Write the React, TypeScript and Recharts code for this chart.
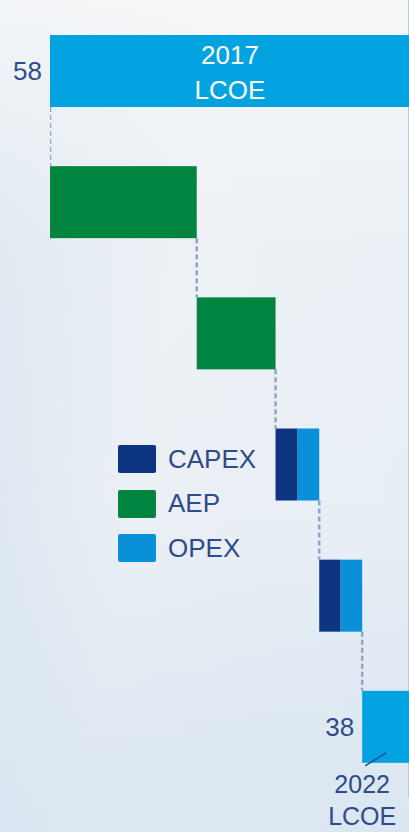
import { BarChart, Bar, XAxis, YAxis, Legend, LabelList } from "recharts";

// rows top to bottom, value axis runs right-to-left
const rowNames = ["2017 LCOE", "AEP 1", "AEP 2", "Step 3", "Step 4", "2022 LCOE"];
const totalValues = [58, 0, 0, 0, 0, 38];
const aepValues = [0, 9.4, 5.05, 0, 0, 0];
const capexValues = [0, 0, 0, 1.4, 1.35, 0];
const opexValues = [0, 0, 0, 1.4, 1.4, 0];
const totalLabels = ["2017", "2022"];

const legendOrder = ["capex", "aep", "opex"];

const COLORS = {
  total: "#00a3e0",
  aep: "#00843f",
  capex: "#0c3480",
  opex: "#0a90d8",
  text: "#2f4b8a",
  dash: "#95a2cb",
};

const CHART_H = 832;
const MARGIN = { top: 5, right: 0, bottom: 40, left: 50 };
const BAR_SIZE = 72;
const GAP = (CHART_H - MARGIN.top - MARGIN.bottom) / rowNames.length - BAR_SIZE;

// build waterfall table: invisible base + visible segments
let level = 0;
const data = rowNames.map((name, i) => {
  const step = aepValues[i] + capexValues[i] + opexValues[i];
  let base = 0;
  if (totalValues[i] > 0) {
    level = totalValues[i];
  } else {
    level = level - step;
    base = level;
  }
  const topKey = totalValues[i] > 0 ? "total" : aepValues[i] > 0 ? "aep" : "capex";
  return {
    name,
    base,
    total: totalValues[i],
    opex: opexValues[i],
    capex: capexValues[i],
    aep: aepValues[i],
    topKey,
    connector: i > 0,
  };
});

const makeShape = (key: string) => (props: any) => {
  const { x, y, width, height, fill, payload } = props;
  if (!width || Math.abs(width) < 0.01) return null;
  const left = Math.min(x, x + width);
  const w = Math.abs(width);
  const showLine = payload && payload.connector && payload.topKey === key;
  return (
    <g>
      <rect x={left} y={y} width={w} height={height} fill={fill} />
      {showLine && (
        <line
          x1={left}
          x2={left}
          y1={y - GAP}
          y2={y}
          stroke={COLORS.dash}
          strokeWidth={2.5}
          strokeDasharray="5 3"
        />
      )}
    </g>
  );
};

const TotalLabel = (props: any) => {
  const { x, y, width, height, index } = props;
  if (totalValues[index] <= 0) return null;
  const left = Math.min(x, x + width);
  const cy = y + height / 2;
  const font = "'Liberation Sans', Arial, sans-serif";
  if (index === 0) {
    return (
      <g fontFamily={font} fontSize={26}>
        <text x={left - 8} y={cy} dy={9} textAnchor="end" fill={COLORS.text}>
          {totalValues[index]}
        </text>
        <text x={left + 180} y={cy - 16} dy={9} textAnchor="middle" fill="#fff">
          {totalLabels[0]}
        </text>
        <text x={left + 180} y={cy + 19} dy={9} textAnchor="middle" fill="#fff">
          LCOE
        </text>
      </g>
    );
  }
  return (
    <g fontFamily={font} fontSize={25}>
      <text x={left - 8} y={cy} dy={9} fontSize={26} textAnchor="end" fill={COLORS.text}>
        {totalValues[index]}
      </text>
      <line
        x1={left + 3}
        y1={y + height + 3}
        x2={left + 24}
        y2={y + height - 10}
        stroke={COLORS.text}
        strokeWidth={1.5}
      />
      <text x={left} y={y + height + 21} dy={9} textAnchor="middle" fill={COLORS.text}>
        {totalLabels[1]}
      </text>
      <text x={left} y={y + height + 53} dy={9} textAnchor="middle" fill={COLORS.text}>
        LCOE
      </text>
    </g>
  );
};

const LegendContent = (props: any) => {
  const items = [...(props.payload || [])]
    .filter((p: any) => legendOrder.includes(p.dataKey))
    .sort((a: any, b: any) => legendOrder.indexOf(a.dataKey) - legendOrder.indexOf(b.dataKey));
  return (
    <div style={{ fontFamily: "'Liberation Sans', Arial, sans-serif" }}>
      {items.map((it: any) => (
        <div
          key={it.dataKey}
          style={{ display: "flex", alignItems: "center", height: 44.5 }}
        >
          <span
            style={{
              display: "inline-block",
              width: 38,
              height: 28,
              borderRadius: 2,
              background: it.color,
              marginRight: 12,
            }}
          />
          <span style={{ fontSize: 26, color: COLORS.text }}>{it.value}</span>
        </div>
      ))}
    </div>
  );
};

export default function App() {
  return (
    <div
      style={{
        position: "absolute",
        left: 0,
        top: 0,
        width: 409,
        height: 832,
        overflow: "hidden",
        background:
          "linear-gradient(to bottom, rgba(246,247,248,0.9) 0%, rgba(240,243,246,0.3) 30%, rgba(220,232,242,0) 60%, rgba(205,222,238,0.5) 100%), linear-gradient(100deg, #d8e5f0 0%, #ebf0f5 40%, #e7eef5 100%)",
      }}
    >
      <div
        style={{
          position: "absolute",
          left: 408,
          top: 0,
          width: 1,
          height: 798,
          background: "#c2cad6",
        }}
      />
      <BarChart
        width={409}
        height={CHART_H}
        data={data}
        layout="vertical"
        margin={MARGIN}
        barSize={BAR_SIZE}
        style={{ position: "relative" }}
      >
        <XAxis type="number" domain={[35, 58]} reversed allowDataOverflow hide />
        <YAxis type="category" dataKey="name" hide />
        <Legend
          layout="vertical"
          align="center"
          verticalAlign="middle"
          content={LegendContent}
          wrapperStyle={{ left: 118, top: 437, width: "auto", height: "auto" }}
        />
        <Bar dataKey="base" stackId="w" fill="transparent" legendType="none" isAnimationActive={false} />
        <Bar
          dataKey="total"
          stackId="w"
          fill={COLORS.total}
          legendType="none"
          shape={makeShape("total")}
          isAnimationActive={false}
        >
          <LabelList dataKey="total" content={TotalLabel} />
        </Bar>
        <Bar dataKey="opex" name="OPEX" stackId="w" fill={COLORS.opex} shape={makeShape("opex")} isAnimationActive={false} />
        <Bar dataKey="capex" name="CAPEX" stackId="w" fill={COLORS.capex} shape={makeShape("capex")} isAnimationActive={false} />
        <Bar dataKey="aep" name="AEP" stackId="w" fill={COLORS.aep} shape={makeShape("aep")} isAnimationActive={false} />
      </BarChart>
    </div>
  );
}
